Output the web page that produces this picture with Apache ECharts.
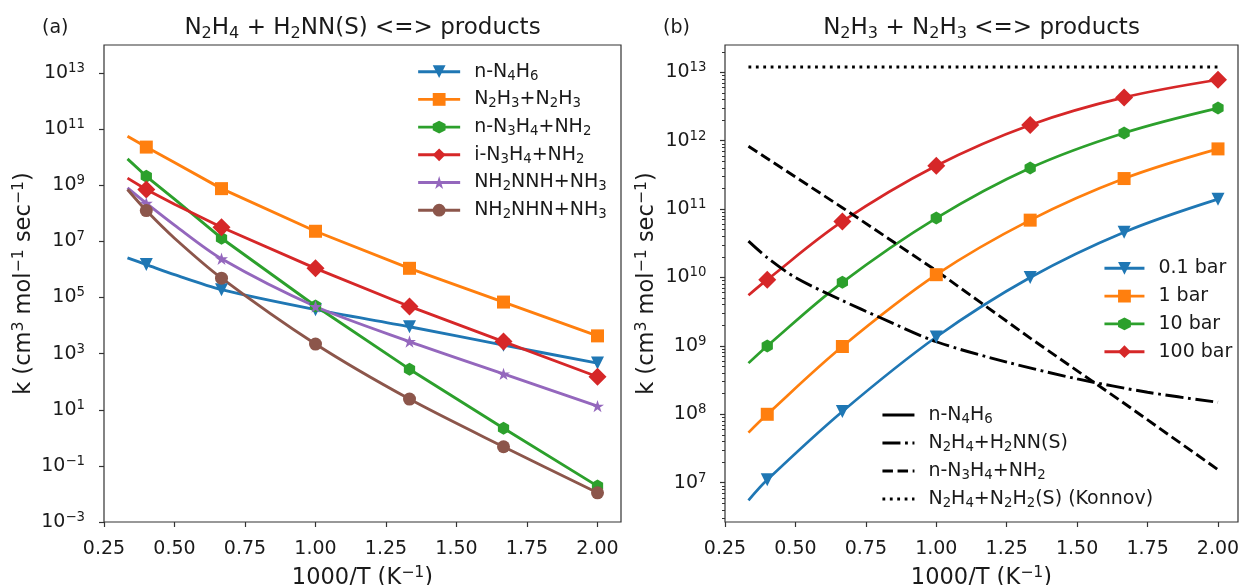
<!DOCTYPE html>
<html>
<head>
<meta charset="utf-8">
<script src="https://cdn.jsdelivr.net/npm/echarts@6/dist/echarts.min.js"></script>
<style>html,body{margin:0;padding:0;background:#fff}#c{width:1243px;height:585px}</style>
</head>
<body>
<div id="c"></div>
<script>
// ---------------- data ----------------
// Panel (a): x = 1000/T, line points (marker shown where markLeft = 1)
const xLeft    = [0.3333, 0.4, 0.5, 0.6667, 1.0, 1.3333, 1.6667, 2.0];
const markLeft = [0, 1, 0, 1, 1, 1, 1, 1];
const k_nN4H6      = [2.6e6, 1.5e6, 6.5e5, 1.9e5, 3.7e4, 9.1e3, 2.0e3, 4.6e2];
const k_N2H3N2H3   = [5.6e10, 2.3e10, 6.5e9, 7.6e8, 2.3e7, 1.1e6, 6.9e4, 4.3e3];
const k_nN3H4NH2   = [8.7e9, 2.1e9, 3.2e8, 1.3e7, 5.0e4, 2.8e2, 2.2, 1.9e-2];
const k_iN3H4NH2   = [1.8e9, 7.1e8, 2.1e8, 3.2e7, 1.1e6, 4.8e4, 2.7e3, 1.5e2];
const k_NH2NNHNH3  = [8.1e8, 2.3e8, 3.8e7, 2.4e6, 4.8e4, 2.7e3, 1.9e2, 13.5];
const k_NH2NHNNH3  = [7.1e8, 1.26e8, 1.3e7, 4.9e5, 2.2e3, 24, 0.48, 1.1e-2];

// Panel (b): n-N4H6 channel at four pressures
const xRight    = [0.3333, 0.4, 0.6667, 1.0, 1.3333, 1.6667, 2.0];
const markRight = [0, 1, 1, 1, 1, 1, 1];
const k_01bar  = [5.5e6, 1.1e7, 1.1e8, 1.35e9, 1.0e10, 4.6e10, 1.4e11];
const k_1bar   = [5.4e7, 1.0e8, 9.8e8, 1.1e10, 6.9e10, 2.8e11, 7.6e11];
const k_10bar  = [5.6e8, 1.0e9, 8.5e9, 7.4e10, 4.0e11, 1.3e12, 3.0e12];
const k_100bar = [5.5e9, 9.3e9, 6.6e10, 4.3e11, 1.7e12, 4.3e12, 7.8e12];
// Panel (b): other channels (black lines)
const xDash    = [0.3333, 0.6667, 1.0, 1.3333, 1.6667, 2.0];
const k_dash_nN3H4NH2 = [8.3e11, 1.05e11, 1.26e10, 1.3e9, 1.45e8, 1.55e7];
const xDashDot = [0.3333, 0.4, 0.5, 0.6667, 0.8, 1.0, 1.25, 1.5, 1.75, 2.0];
const k_dashdot_N2H4H2NN = [3.4e10, 1.95e10, 1.0e10, 4.6e9, 2.6e9, 1.15e9, 5.8e8, 3.3e8, 2.1e8, 1.5e8];
const xDot     = [0.3333, 2.0];
const k_dot_Konnov = [1.2e13, 1.2e13];

// tick labels
const xTicks      = [0.25, 0.5, 0.75, 1.0, 1.25, 1.5, 1.75, 2.0];
const yTicksLeft  = [1e-3, 1e-1, 1e1, 1e3, 1e5, 1e7, 1e9, 1e11, 1e13];
const yTicksRight = [1e7, 1e8, 1e9, 1e10, 1e11, 1e12, 1e13];

// legend / text labels (rich markup for sub/superscripts)
const leftLabels  = ['n-N{sub|4}H{sub|6}', 'N{sub|2}H{sub|3}+N{sub|2}H{sub|3}', 'n-N{sub|3}H{sub|4}+NH{sub|2}',
                     'i-N{sub|3}H{sub|4}+NH{sub|2}', 'NH{sub|2}NNH+NH{sub|3}', 'NH{sub|2}NHN+NH{sub|3}'];
const pressLabels = ['0.1 bar', '1 bar', '10 bar', '100 bar'];
const styleLabels = ['n-N{sub|4}H{sub|6}', 'N{sub|2}H{sub|4}+H{sub|2}NN(S)', 'n-N{sub|3}H{sub|4}+NH{sub|2}',
                     'N{sub|2}H{sub|4}+N{sub|2}H{sub|2}(S) (Konnov)'];
const titleA = 'N{sub|2}H{sub|4} + H{sub|2}NN(S) <=> products';
const titleB = 'N{sub|2}H{sub|3} + N{sub|2}H{sub|3} <=> products';
const yName  = 'k (cm{sup|3} mol{sup|−1} sec{sup|−1})';
const xName  = '1000/T (K{sup|−1})';

// ---------------- styling ----------------
const FONT = 'DejaVu Sans';
const FS = 19;      // ticks, legends
const FN = 22.5;    // axis names
const FT = 23;      // titles
const TXT = '#1a1a1a';
const AX = '#333';
const C = {blue:'#1f77b4', orange:'#ff7f0e', green:'#2ca02c', red:'#d62728', purple:'#9467bd', brown:'#8c564b'};

function richFor(fs, lh) {
  lh = lh || 10;
  return {
    sub: {fontFamily: FONT, fontSize: fs * 0.7, lineHeight: lh, verticalAlign: 'bottom', color: TXT},
    sup: {fontFamily: FONT, fontSize: fs * 0.7, lineHeight: lh, verticalAlign: 'top', color: TXT},
    g:   {width: 9, fontSize: fs}
  };
}
const starPath = (function () {
  let p = [];
  for (let i = 0; i < 10; i++) {
    const a = -Math.PI / 2 + i * Math.PI / 5, r = (i % 2 === 0) ? 1 : 0.382;
    p.push((i === 0 ? 'M' : 'L') + (r * Math.cos(a)).toFixed(4) + ',' + (r * Math.sin(a)).toFixed(4));
  }
  return 'path://' + p.join('') + 'Z';
})();
const hexPath = 'path://M0,-1L0.866,-0.5L0.866,0.5L0,1L-0.866,0.5L-0.866,-0.5Z';

function mkLine(o) {
  return {
    type: 'line', name: o.name, xAxisIndex: o.panel, yAxisIndex: o.panel,
    data: o.x.map((x, i) => (o.mark && o.mark[i]) ? [x, o.k[i]] : {value: [x, o.k[i]], symbol: 'none'}),
    symbol: o.symbol || 'none', symbolSize: o.size || 13, symbolRotate: o.rotate || 0, symbolKeepAspect: true,
    smooth: o.smooth || false,
    itemStyle: {color: o.color, borderWidth: 0},
    lineStyle: {color: o.color, width: o.width || 2.9, type: o.dash || 'solid', cap: 'butt'},
    emphasis: {disabled: true}, silent: true, animation: false
  };
}

const leftNames = ['a0', 'a1', 'a2', 'a3', 'a4', 'a5'];
const pressNames = ['p0', 'p1', 'p2', 'p3'];
const styleNames = ['s0', 's1', 's2', 's3'];
const labelMap = {};
leftNames.forEach((n, i) => labelMap[n] = leftLabels[i]);
pressNames.forEach((n, i) => labelMap[n] = pressLabels[i]);
styleNames.forEach((n, i) => labelMap[n] = styleLabels[i]);

const series = [
  mkLine({panel: 0, name: 'a0', x: xLeft, k: k_nN4H6,     mark: markLeft, color: C.blue,   symbol: 'triangle', rotate: 180, size: 13, smooth: 0.3}),
  mkLine({panel: 0, name: 'a1', x: xLeft, k: k_N2H3N2H3,  mark: markLeft, color: C.orange, symbol: 'rect', size: 13}),
  mkLine({panel: 0, name: 'a2', x: xLeft, k: k_nN3H4NH2,  mark: markLeft, color: C.green,  symbol: hexPath, size: 13}),
  mkLine({panel: 0, name: 'a3', x: xLeft, k: k_iN3H4NH2,  mark: markLeft, color: C.red,    symbol: 'diamond', size: 18}),
  mkLine({panel: 0, name: 'a4', x: xLeft, k: k_NH2NNHNH3, mark: markLeft, color: C.purple, symbol: starPath, size: 13, smooth: 0.3}),
  mkLine({panel: 0, name: 'a5', x: xLeft, k: k_NH2NHNNH3, mark: markLeft, color: C.brown,  symbol: 'circle', size: 13, smooth: 0.3}),

  mkLine({panel: 1, name: 'p0', x: xRight, k: k_01bar,  mark: markRight, color: C.blue,   symbol: 'triangle', rotate: 180, size: 13, smooth: 0.35, width: 2.7}),
  mkLine({panel: 1, name: 'p1', x: xRight, k: k_1bar,   mark: markRight, color: C.orange, symbol: 'rect', size: 13, smooth: 0.35, width: 2.7}),
  mkLine({panel: 1, name: 'p2', x: xRight, k: k_10bar,  mark: markRight, color: C.green,  symbol: hexPath, size: 13, smooth: 0.35, width: 2.7}),
  mkLine({panel: 1, name: 'p3', x: xRight, k: k_100bar, mark: markRight, color: C.red,    symbol: 'diamond', size: 18, smooth: 0.35, width: 2.7}),

  mkLine({panel: 1, name: 's0', x: [], k: [], color: '#000'}),
  mkLine({panel: 1, name: 's1', x: xDashDot, k: k_dashdot_N2H4H2NN, color: '#000', dash: [18, 4.6, 2.8, 4.6], smooth: 0.3}),
  mkLine({panel: 1, name: 's2', x: xDash, k: k_dash_nN3H4NH2, color: '#000', dash: [10.5, 4.6]}),
  mkLine({panel: 1, name: 's3', x: xDot, k: k_dot_Konnov, color: '#000', dash: [2.8, 4.6]})
];

function expLabel(v) {
  const e = Math.round(Math.log10(v));
  return '10{sup|' + String(e).replace('-', '−') + '}';
}
const tickLine = {color: AX, width: 1.2};
const labelBase = {fontFamily: FONT, fontSize: FS, color: TXT, lineHeight: 22};
const nameStyle = {fontFamily: FONT, fontSize: FN, color: TXT, lineHeight: 26, rich: richFor(FN, 12)};

function xAxisFor(gi, max) {
  return {
    type: 'value', gridIndex: gi, min: 0.25, max: max,
    axisLine: {show: false}, splitLine: {show: false},
    axisTick: {show: true, customValues: xTicks, length: 5, inside: false, lineStyle: tickLine},
    axisLabel: Object.assign({customValues: xTicks, margin: 16, formatter: v => v.toFixed(2)}, labelBase),
    name: xName, nameLocation: 'middle', nameGap: 41, nameTextStyle: nameStyle
  };
}
function yAxisFor(gi, min, max, ticks, margin, gap) {
  return {
    type: 'log', logBase: 10, gridIndex: gi, min: min, max: max, position: 'left',
    axisLine: {show: false}, splitLine: {show: false}, minorTick: {show: false},
    axisTick: {show: true, customValues: ticks, length: 5, lineStyle: tickLine},
    axisLabel: Object.assign({customValues: ticks, margin: margin, formatter: expLabel, rich: richFor(FS)}, labelBase),
    name: yName, nameLocation: 'middle', nameGap: gap, nameRotate: 90, nameTextStyle: nameStyle
  };
}
const rMin = Math.pow(10, 6.425), rMax = Math.pow(10, 13.4);
const minorRight = [];
for (let e = 6; e <= 13; e++) for (let m = 2; m <= 9; m++) {
  const v = m * Math.pow(10, e);
  if (v > rMin && v < rMax) minorRight.push(v);
}

function legendFor(names, left, top, itemWidth, gap, extra) {
  return Object.assign({
    data: names, orient: 'vertical', left: left, top: top, padding: 0,
    itemWidth: itemWidth, itemHeight: 16, itemGap: gap, selectedMode: false,
    formatter: n => '{g| }' + labelMap[n],
    lineStyle: {width: 2.9},
    textStyle: {fontFamily: FONT, fontSize: FS, color: TXT, lineHeight: 22, rich: richFor(FS)}
  }, extra || {});
}
const titleStyle = {fontFamily: FONT, fontSize: FT, fontWeight: 'normal', color: TXT, lineHeight: 27,
                    rich: {sub: {fontFamily: FONT, fontSize: FT * 0.7, lineHeight: 12, verticalAlign: 'bottom', color: TXT}}};

const option = {
  backgroundColor: '#fff',
  animation: false,
  title: [
    {text: titleA, left: 362.5, top: 15, textAlign: 'center', padding: 0, textStyle: titleStyle},
    {text: titleB, left: 981.5, top: 15, textAlign: 'center', padding: 0, textStyle: titleStyle},
    {text: '(a)', left: 42, top: 17, padding: 0, textStyle: {fontFamily: FONT, fontSize: FS, fontWeight: 'normal', color: TXT, lineHeight: 22}},
    {text: '(b)', left: 663, top: 17, padding: 0, textStyle: {fontFamily: FONT, fontSize: FS, fontWeight: 'normal', color: TXT, lineHeight: 22}}
  ],
  grid: [
    {left: 104, top: 45, width: 517, height: 477, show: true, borderColor: AX, borderWidth: 1.2, backgroundColor: 'transparent', containLabel: false, outerBoundsMode: 'none'},
    {left: 725, top: 45, width: 513, height: 477, show: true, borderColor: AX, borderWidth: 1.2, backgroundColor: 'transparent', containLabel: false, outerBoundsMode: 'none'}
  ],
  xAxis: [xAxisFor(0, 2.0833), xAxisFor(1, 2.071)],
  yAxis: [
    yAxisFor(0, 1e-3, 1e14, yTicksLeft, 19, 66),
    yAxisFor(1, rMin, rMax, yTicksRight, 18.5, 65),
    {type: 'log', logBase: 10, gridIndex: 1, min: rMin, max: rMax, position: 'left',
     axisLine: {show: false}, splitLine: {show: false}, axisLabel: {show: false},
     axisTick: {show: true, customValues: minorRight, length: 3, lineStyle: {color: AX, width: 1}}}
  ],
  legend: [
    legendFor(leftNames, 416.7, 60.7, 42, 5.7),
    legendFor(pressNames, 1103, 257.3, 40, 5.8),
    legendFor(styleNames, 881, 404, 32, 6, {itemStyle: {opacity: 0}})
  ],
  series: series
};

const chart = echarts.init(document.getElementById('c'), null, {renderer: 'canvas', width: 1243, height: 585});
chart.setOption(option);
</script>
</body>
</html>
